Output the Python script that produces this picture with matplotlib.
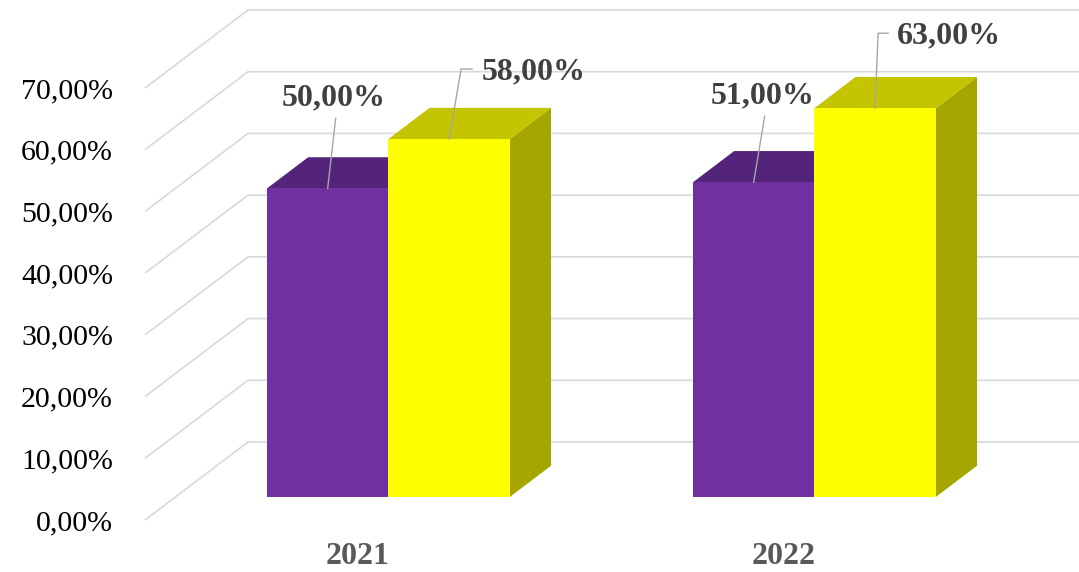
import matplotlib
matplotlib.use('Agg')
import matplotlib.pyplot as plt
from matplotlib.patches import Polygon

# data
years = ['2021', '2022']
serie_a = [50, 51]   # viola
serie_b = [58, 63]   # giallo
yticks = [0, 10, 20, 30, 40, 50, 60, 70]

def pct(v):
    return f'{v:.2f}%'.replace('.', ',')

W, H = 1079, 572
fig = plt.figure(figsize=(W / 100, H / 100), dpi=100)
# front plane of the 3D box in pixels
left, right, bottom, top = 145, 997, 520, 88
ax = fig.add_axes([left / W, (H - bottom) / H, (right - left) / W, (bottom - top) / H])
ax.set_xlim(0, 2)
ax.set_ylim(0, 70)
for s in ax.spines.values():
    s.set_visible(False)

px_x = 2 / (right - left)
px_y = 70 / (bottom - top)
ddx = 103 * px_x          # full depth offset
ddy = 78 * px_y
f0, f1 = 0.295, 0.695     # bar depth range

# gridlines (floor diagonal + back wall)
for v in yticks:
    ax.plot([0, ddx, 2 + ddx], [v, v + ddy, v + ddy], color='#D9D9D9', lw=1.2,
            clip_on=False, zorder=1, solid_capstyle='butt')

gap, w = 0.215, 0.285
styles = [
    dict(front='#7030A0', top='#532479', side='#3F1A5E'),
    dict(front='#FFFF00', top='#C4C400', side='#A6A600'),
]
series = [serie_a, serie_b]

# label offsets in pixels from front-top center of the bar: (leader pts..., text pos, align)
leaders = {
    (0, 0): ([(0, 0), (8, 70)], (6, 91), 'center'),
    (0, 1): ([(0, 0), (12, 70), (23, 70)], (33, 67), 'left'),
    (1, 0): ([(0, 0), (11, 66)], (9, 86), 'center'),
    (1, 1): ([(0, 0), (3, 75), (13, 75)], (22, 72), 'left'),
}

for i in range(len(years)):
    for j, vals in enumerate(series):
        v = vals[i]
        st = styles[j]
        x0 = i + gap + j * w
        xa, xb = x0 + f0 * ddx, x0 + w + f0 * ddx
        xc, xd = x0 + f1 * ddx, x0 + w + f1 * ddx
        ya, yb = f0 * ddy, f1 * ddy
        side = Polygon([(xb, ya), (xd, yb), (xd, v + yb), (xb, v + ya)], closed=True,
                       facecolor=st['side'], edgecolor='none', clip_on=False, zorder=2)
        topf = Polygon([(xa, v + ya), (xb, v + ya), (xd, v + yb), (xc, v + yb)], closed=True,
                       facecolor=st['top'], edgecolor='none', clip_on=False, zorder=2)
        ax.add_patch(side)
        ax.add_patch(topf)
        ax.bar(xa, v, width=w, bottom=ya, align='edge', color=st['front'],
               clip_on=False, zorder=2)

for i in range(len(years)):
    for j, vals in enumerate(series):
        v = vals[i]
        x0 = i + gap + j * w
        cx = x0 + f0 * ddx + w / 2
        cy = v + f0 * ddy
        pts, tp, ha = leaders[(i, j)]
        ax.plot([cx + p[0] * px_x for p in pts], [cy + p[1] * px_y for p in pts],
                color='#A6A6A6', lw=1.0, clip_on=False, zorder=3)
        ax.text(cx + tp[0] * px_x, cy + tp[1] * px_y, pct(v), ha=ha, va='center',
                fontsize=23, fontweight='bold', color='#404040',
                family='Liberation Serif', zorder=4)

ax.set_yticks(yticks)
ax.set_yticklabels([pct(v) for v in yticks], family='Liberation Serif', fontsize=21.5, color='black')
ax.set_xticks([0.5, 1.5])
ax.set_xticklabels(years, family='Liberation Serif', fontsize=23, fontweight='bold', color='#595959')
ax.tick_params(axis='y', length=0, pad=23)
ax.tick_params(axis='x', length=0, pad=16)

fig.savefig('out.png', dpi=100)
